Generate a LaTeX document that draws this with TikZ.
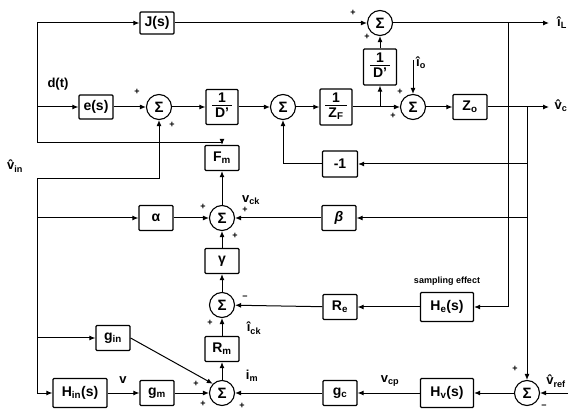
\documentclass[tikz,border=0pt]{standalone}
\usepackage{fontspec}
\setmainfont{Liberation Sans}
\usepackage{tikz}
\usetikzlibrary{arrows.meta,positioning}
\newcommand{\lo}[1]{\textsubscript{#1}}
\newcommand{\frc}[2]{\begin{tabular}{@{\hspace{3pt}}c@{\hspace{3pt}}}#1\\[-2pt]\hline\rule{0pt}{12pt}#2\end{tabular}}

\begin{document}
\begin{tikzpicture}[x=1pt,y=-1pt,
  box/.style={draw,line width=1.2pt,rounded corners=1pt,minimum width=34pt,minimum height=25pt,inner sep=1pt,font=\bfseries\fontsize{14}{15}\selectfont},
  sumnode/.style={draw,circle,line width=1.1pt,minimum size=25pt,inner sep=0pt,font=\bfseries\fontsize{15}{15}\selectfont},
  ar/.style={-{Latex[length=6pt,width=5pt]},line width=1pt},
  ln/.style={line width=1pt},
  sg/.style={font=\bfseries\fontsize{9}{9}\selectfont,inner sep=0pt},
  lbl/.style={font=\bfseries\fontsize{13}{14}\selectfont,inner sep=0pt}
]
\useasboundingbox (0,0) rectangle (578,411);

% forward path
\node[box,minimum height=22pt] (js) at (157,23) {J(s)};
\node[box,minimum height=24pt] (es) at (96,107) {e(s)};
\node[sumnode] (sl) at (159,107) {Σ};
\node[box,minimum width=32pt,minimum height=35pt] (dl) at (222,107) {\frc{1}{D'}};
\node[sumnode] (sm) at (283,107) {Σ};
\node[box,minimum width=32pt,minimum height=36pt] (zf) at (336,107) {\frc{1}{Z\lo{F}}};
\node[sumnode] (sr) at (413,107) {Σ};
\node[box] (zo) at (470,107) {Z\lo{o}};
\node[sumnode] (st) at (380,23) {Σ};
\node[box,minimum width=33pt,minimum height=36pt] (dr) at (380,67) {\frc{1}{D'}};

% control part
\node[box,minimum width=35pt,minimum height=26pt] (ng) at (340,164) {-1};
\node[box] (fm) at (222,158) {F\lo{m}};
\node[sumnode] (sc) at (222,218) {Σ};
\node[box] (al) at (156,218) {α};
\node[box] (be) at (339,218) {\itshape β};
\node[box] (ga) at (222,261) {γ};
\node[sumnode] (sk) at (222,305) {Σ};
\node[box] (rm) at (222,349) {R\lo{m}};
\node[sumnode] (si) at (222,393) {Σ};
\node[box] (re) at (340,307) {R\lo{e}};
\node[box,minimum width=53pt,minimum height=29pt] (he) at (447,307) {H\lo{e}(s)};
\node[box] (gi) at (113,338) {g\lo{in}};
\node[box,minimum width=54pt,minimum height=29pt] (hi) at (80,393) {H\lo{in}(s)};
\node[box] (gm) at (157,393) {g\lo{m}};
\node[box] (gc) at (340,393) {g\lo{c}};
\node[box,minimum width=53pt,minimum height=29pt] (hv) at (447,393) {H\lo{v}(s)};
\node[sumnode] (sb) at (527,393) {Σ};

% branch points and free ends
\coordinate (dT) at (37,23);
\coordinate (dM) at (37,107);
\coordinate (dB) at (37,143);
\coordinate (vin) at (37,179);
\coordinate (vA) at (37,218);
\coordinate (vG) at (37,338);
\coordinate (vH) at (37,393);
\coordinate (jD) at (380,107);
\coordinate (io) at (413,60);
\coordinate (iJ) at (508,23);
\coordinate (iL) at (549,23);
\coordinate (vJ) at (527,107);
\coordinate (vc) at (549,107);
\coordinate (vN) at (527,164);
\coordinate (vB) at (527,218);
\coordinate (vr) at (568,393);

\draw[ln] (dT) -- (dB);
\draw[ar] (dT) -- (js);
\draw[ar] (js) -- (st);
\draw[ar] (dM) -- (es);
\draw[ar] (dB) -| (fm);
\draw[ar] (es) -- (sl);
\draw[ar] (sl) -- (dl);
\draw[ar] (dl) -- (sm);
\draw[ar] (sm) -- (zf);
\draw[ar] (zf) -- (sr);
\draw[ar] (sr) -- (zo);
\draw[ar] (zo) -- (vc);
\draw[ar] (jD) -- (dr);
\draw[ar] (dr) -- (st);
\draw[ar] (st) -- (iL);
\draw[ar] (io) -- (sr);

\draw[ar] (vin) -| (sl);
\draw[ln] (vin) -- (vH);
\draw[ar] (vA) -- (al);
\draw[ar] (vG) -- (gi);
\draw[ar] (vH) -- (hi);
\draw[ar] (hi) -- (gm);
\draw[ar] (gm) -- (si);
\draw[ar] (gi.east) -- (si.north west);
\draw[ar] (si) -- (rm);
\draw[ar] (rm) -- (sk);
\draw[ar] (sk) -- (ga);
\draw[ar] (ga) -- (sc);
\draw[ar] (sc) -- (fm);
\draw[ar] (al) -- (sc);
\draw[ar] (be) -- (sc);
\draw[ar] (vB) -- (be);
\draw[ar] (vN) -- (ng);
\draw[ar] (ng) -| (sm);
\draw[ar] (vJ) -- (sb);
\draw[ar] (iJ) |- (he);
\draw[ar] (he) -- (re);
\draw[ar] (re) -- (sk);
\draw[ar] (sb) -- (hv);
\draw[ar] (hv) -- (gc);
\draw[ar] (gc) -- (si);
\draw[ar] (vr) -- (sb);

% signs
\node[sg] (p1) at (353,13) {+};
\node[sg] (p2) at (367,37) {+};
\node[sg] (p3) at (137,92) {+};
\node[sg] (p4) at (172,125) {+};
\node[sg] (p5) at (400,92) {+};
\node[sg] (p6) at (393,116) {+};
\node[sg] (p7) at (203,207) {+};
\node[sg] (p8) at (245,210) {+};
\node[sg] (p9) at (235,236) {+};
\node[sg] (m1) at (245,298) {\textminus};
\node[sg] (p10) at (210,323) {+};
\node[sg] (p11) at (196,384) {+};
\node[sg] (p12) at (203,404) {+};
\node[sg] (p13) at (242,406) {+};
\node[sg] (p14) at (515,369) {+};
\node[sg] (m2) at (544,407) {\textminus};

% signal names
\node[lbl] (lIL) at (562,23) {î\lo{L}};
\node[lbl] (lVc) at (561,106) {\^v\lo{c}};
\node[lbl] (lIo) at (421,63) {î\lo{o}};
\node[lbl] (lDt) at (58,84) {d(t)};
\node[lbl] (lVin) at (15,166) {\^v\lo{in}};
\node[lbl] (lVck) at (251,200) {v\lo{ck}};
\node[lbl] (lIck) at (254,328) {î\lo{ck}};
\node[lbl] (lIm) at (252,376) {i\lo{m}};
\node[lbl] (lV) at (123,380) {v};
\node[lbl] (lVcp) at (390,381) {v\lo{cp}};
\node[lbl] (lVref) at (556,381) {\^v\lo{ref}};
\node[font=\bfseries\fontsize{9}{10}\selectfont] (lSamp) at (447,281) {sampling effect};
\end{tikzpicture}
\end{document}
